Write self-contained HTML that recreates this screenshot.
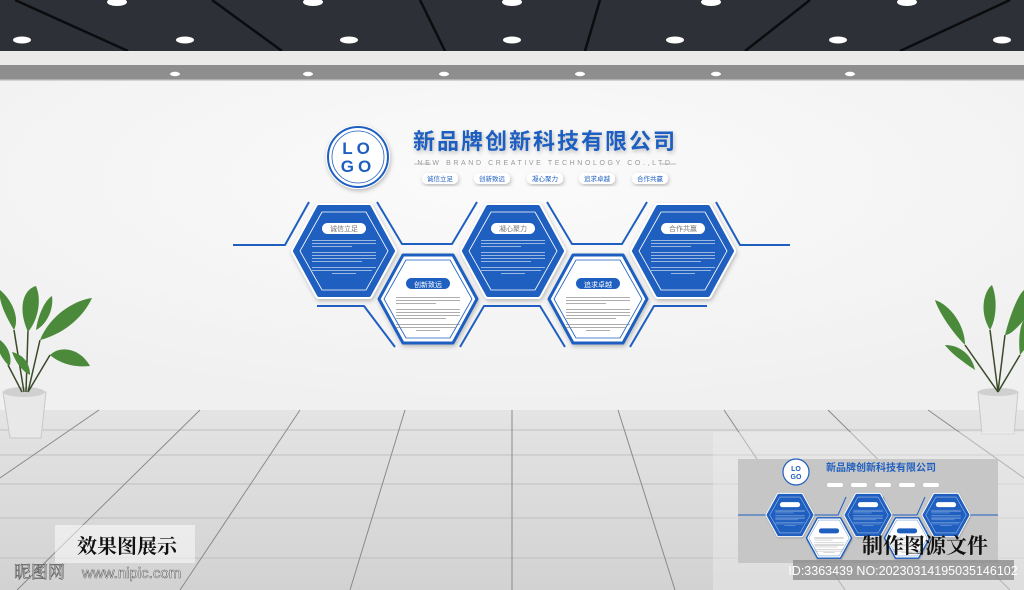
<!DOCTYPE html>
<html><head><meta charset="utf-8"><style>
html,body{margin:0;padding:0;width:1024px;height:590px;overflow:hidden;background:#f8f8f8}
svg{display:block}
text{font-family:"Liberation Sans","Noto Sans CJK SC",sans-serif}
</style></head><body>
<svg width="1024" height="590" viewBox="0 0 1024 590" xmlns="http://www.w3.org/2000/svg">
<defs>
<linearGradient id="fl" x1="0" y1="0" x2="0" y2="1"><stop offset="0" stop-color="#e4e4e4"/><stop offset="1" stop-color="#d2d2d2"/></linearGradient>
<radialGradient id="wl" cx="0.5" cy="0.3" r="0.7"><stop offset="0" stop-color="#fbfbfb"/><stop offset="1" stop-color="#f0f0f0"/></radialGradient>
<filter id="sh" x="-20%" y="-20%" width="140%" height="140%"><feDropShadow dx="1" dy="2" stdDeviation="2" flood-color="#000" flood-opacity="0.25"/></filter>
<g id="blue">
<polygon points="-49,0 -25,-44 25,-44 49,0 25,44 -25,44" fill="#fff" stroke="#fff" stroke-width="8" stroke-linejoin="round" filter="url(#sh)"/>
<polygon points="-49,0 -25,-44 25,-44 49,0 25,44 -25,44" fill="#1f5fc0" stroke="#1f5fc0" stroke-width="4" stroke-linejoin="round"/>
<polygon points="-44,0 -22,-39 22,-39 44,0 22,39 -22,39" fill="none" stroke="#fff" stroke-width="0.8" stroke-linejoin="round"/>
<rect x="-22" y="-28" width="44" height="11" rx="5.5" fill="#fff"/>
<g fill="#fff" opacity="0.55"><rect x="-32" y="-11" width="64" height="1"/><rect x="-32" y="-8" width="64" height="1"/><rect x="-32" y="-5" width="40" height="1"/><rect x="-32" y="1" width="64" height="1"/><rect x="-32" y="4" width="64" height="1"/><rect x="-32" y="7" width="64" height="1"/><rect x="-32" y="10" width="50" height="1"/><rect x="-32" y="16" width="64" height="1"/><rect x="-32" y="19" width="60" height="1"/><rect x="-12" y="22" width="24" height="1"/></g>
</g>
<g id="white">
<polygon points="-49,0 -25,-44 25,-44 49,0 25,44 -25,44" fill="#fff" stroke="#1f5fc0" stroke-width="3" stroke-linejoin="round" filter="url(#sh)"/>
<polygon points="-44,0 -22,-39 22,-39 44,0 22,39 -22,39" fill="#fff" stroke="#1f5fc0" stroke-width="0.8" stroke-linejoin="round"/>
<rect x="-22" y="-21" width="44" height="11" rx="5.5" fill="#1f5fc0"/>
<g fill="#777" opacity="0.6"><rect x="-32" y="-2" width="64" height="1"/><rect x="-32" y="1" width="64" height="1"/><rect x="-32" y="4" width="40" height="1"/><rect x="-32" y="10" width="64" height="1"/><rect x="-32" y="13" width="64" height="1"/><rect x="-32" y="16" width="64" height="1"/><rect x="-32" y="19" width="50" height="1"/><rect x="-32" y="25" width="64" height="1"/><rect x="-32" y="28" width="60" height="1"/><rect x="-12" y="31" width="24" height="1"/></g>
</g>
</defs>
<rect x="0" y="80" width="1024" height="330" fill="url(#wl)"/>
<!-- ceiling -->
<rect x="0" y="0" width="1024" height="51" fill="#2e3038"/>
<g stroke="#0c0c0e" stroke-width="2.5"><line x1="15" y1="0" x2="128" y2="51"/><line x1="212" y1="0" x2="282" y2="51"/><line x1="420" y1="0" x2="445" y2="51"/><line x1="600" y1="0" x2="585" y2="51"/><line x1="810" y1="0" x2="745" y2="51"/><line x1="1010" y1="0" x2="900" y2="51"/></g>
<g fill="#fff"><ellipse cx="22" cy="40" rx="9" ry="3.5"/><ellipse cx="185" cy="40" rx="9" ry="3.5"/><ellipse cx="349" cy="40" rx="9" ry="3.5"/><ellipse cx="512" cy="40" rx="9" ry="3.5"/><ellipse cx="675" cy="40" rx="9" ry="3.5"/><ellipse cx="838" cy="40" rx="9" ry="3.5"/><ellipse cx="1002" cy="40" rx="9" ry="3.5"/>
<ellipse cx="117" cy="2" rx="10" ry="4"/><ellipse cx="313" cy="2" rx="10" ry="4"/><ellipse cx="512" cy="2" rx="10" ry="4"/><ellipse cx="711" cy="2" rx="10" ry="4"/><ellipse cx="907" cy="2" rx="10" ry="4"/></g>
<rect x="0" y="51" width="1024" height="14" fill="#ebebe9"/>
<rect x="0" y="65" width="1024" height="15" fill="#8e8e8e"/>
<rect x="0" y="79" width="1024" height="1.5" fill="#b0b0b0"/>
<g fill="#fff"><ellipse cx="175" cy="74" rx="5" ry="2.2"/><ellipse cx="308" cy="74" rx="5" ry="2.2"/><ellipse cx="444" cy="74" rx="5" ry="2.2"/><ellipse cx="580" cy="74" rx="5" ry="2.2"/><ellipse cx="716" cy="74" rx="5" ry="2.2"/><ellipse cx="850" cy="74" rx="5" ry="2.2"/></g>
<!-- floor -->
<rect x="0" y="410" width="1024" height="180" fill="url(#fl)"/>
<g stroke="#c0c0c0" stroke-width="1"><line x1="0" y1="430" x2="1024" y2="430"/><line x1="0" y1="455" x2="1024" y2="455"/><line x1="0" y1="484" x2="1024" y2="484"/><line x1="0" y1="518" x2="1024" y2="518"/><line x1="0" y1="558" x2="1024" y2="558"/></g>
<g stroke="#8a8a8a" stroke-width="1"><line x1="99" y1="410" x2="0" y2="478"/><line x1="200" y1="410" x2="17" y2="590"/><line x1="300" y1="410" x2="180" y2="590"/><line x1="405" y1="410" x2="350" y2="590"/><line x1="512" y1="410" x2="512" y2="590"/><line x1="618" y1="410" x2="675" y2="590"/><line x1="724" y1="410" x2="845" y2="590"/><line x1="828" y1="410" x2="1010" y2="590"/><line x1="928" y1="410" x2="1024" y2="478"/></g>
<!-- header -->
<circle cx="358" cy="157" r="32" fill="#fff" filter="url(#sh)"/>
<circle cx="358" cy="157" r="30" fill="none" stroke="#1f5fc0" stroke-width="2"/>
<circle cx="358" cy="157" r="26" fill="none" stroke="#1f5fc0" stroke-width="0.8"/>
<text x="358" y="154" font-size="17" font-weight="bold" fill="#1f5fc0" text-anchor="middle" letter-spacing="4">LO</text>
<text x="358" y="172" font-size="17" font-weight="bold" fill="#1f5fc0" text-anchor="middle" letter-spacing="4">GO</text>
<text x="545" y="149" font-size="22" font-weight="bold" fill="#1f5fc0" text-anchor="middle" letter-spacing="2" filter="url(#sh)">新品牌创新科技有限公司</text>
<text x="545" y="165" font-size="7" fill="#999" text-anchor="middle" letter-spacing="2.6">NEW BRAND CREATIVE TECHNOLOGY CO.,LTD</text>
<g stroke="#bbb" stroke-width="1"><line x1="414" y1="164" x2="431" y2="164"/><line x1="660" y1="164" x2="676" y2="164"/></g>
<g font-size="6.5" fill="#1f5fc0" text-anchor="middle">
<rect x="422" y="173" width="36" height="11" rx="5" fill="#fff" filter="url(#sh)"/><text x="440" y="181">诚信立足</text>
<rect x="474" y="173" width="36" height="11" rx="5" fill="#fff" filter="url(#sh)"/><text x="492" y="181">创新致远</text>
<rect x="527" y="173" width="36" height="11" rx="5" fill="#fff" filter="url(#sh)"/><text x="545" y="181">凝心聚力</text>
<rect x="579" y="173" width="36" height="11" rx="5" fill="#fff" filter="url(#sh)"/><text x="597" y="181">追求卓越</text>
<rect x="632" y="173" width="36" height="11" rx="5" fill="#fff" filter="url(#sh)"/><text x="650" y="181">合作共赢</text>
</g>
<!-- frame lines -->
<g fill="none" stroke="#1f5fc0" stroke-width="2" stroke-linejoin="round">
<polyline points="233,245 285,245 309,202"/>
<polyline points="377,202 402,244 452,244 477,202"/>
<polyline points="547,202 572,244 622,244 647,202"/>
<polyline points="716,202 740,245 790,245"/>
<polyline points="317,306 364,306 395,347"/>
<polyline points="460,347 484,306 540,306 565,347"/>
<polyline points="630,347 654,306 707,306"/>
</g>
<!-- hexes -->
<use href="#blue" x="344" y="251"/>
<use href="#blue" x="513" y="251"/>
<use href="#blue" x="683" y="251"/>
<use href="#white" x="428" y="299"/>
<use href="#white" x="598" y="299"/>
<g font-size="7" text-anchor="middle">
<text x="344" y="231" fill="#777">诚信立足</text>
<text x="513" y="231" fill="#777">凝心聚力</text>
<text x="683" y="231" fill="#777">合作共赢</text>
<text x="428" y="287" fill="#fff">创新致远</text>
<text x="598" y="287" fill="#fff">追求卓越</text>
</g>
<!-- plants -->
<g>
<path d="M3,392 L46,392 L41,438 L10,438 Z" fill="#e8e8e8" stroke="#c8c8c8"/>
<ellipse cx="24" cy="392" rx="21" ry="5" fill="#d0d0d0"/>
<g stroke="#3a4a2a" stroke-width="1.5" fill="none"><path d="M26,392 L28,330"/><path d="M28,392 L40,340"/><path d="M28,392 L50,355"/><path d="M22,392 L8,365"/><path d="M24,392 L14,330"/></g>
<g fill="#4a8a3a"><path d="M28,332 C18,310 22,290 36,286 C42,300 38,320 28,332Z"/><path d="M40,340 C50,315 75,300 92,298 C82,320 60,335 40,340Z"/><path d="M50,355 C60,345 80,348 90,366 C72,368 58,362 50,355Z"/><path d="M8,365 C0,356 -5,346 0,340 C8,346 12,356 10,365Z"/><path d="M14,330 C5,315 -2,300 0,290 C12,300 20,318 14,330Z"/><path d="M36,330 C38,315 45,300 52,296 C54,310 46,325 36,330Z"/><path d="M30,375 C20,370 15,360 12,352 C25,355 30,365 30,375Z"/></g>
</g>
<g>
<path d="M978,392 L1018,392 L1014,434 L982,434 Z" fill="#e8e8e8" stroke="#c8c8c8"/>
<ellipse cx="998" cy="392" rx="20" ry="4" fill="#d0d0d0"/>
<g stroke="#3a4a2a" stroke-width="1.5" fill="none"><path d="M998,392 L990,330"/><path d="M998,392 L1005,335"/><path d="M998,392 L965,345"/><path d="M998,392 L1020,355"/></g>
<g fill="#4a8a3a"><path d="M990,330 C978,310 985,290 992,285 C998,300 996,320 990,330Z"/><path d="M965,345 C950,330 938,310 935,300 C950,305 965,325 965,345Z"/><path d="M1005,335 C1010,315 1018,295 1024,290 L1024,320 C1015,330 1010,335 1005,335Z"/><path d="M975,370 C960,360 950,352 945,345 C960,345 972,355 975,370Z"/><path d="M1020,355 C1018,340 1020,325 1024,320 L1024,350Z"/></g>
</g>
<!-- bottom labels -->
<rect x="55" y="525" width="140" height="38" fill="#fff" opacity="0.5"/>
<text x="127" y="553" font-size="20" font-weight="bold" fill="#111" text-anchor="middle" style="font-family:'Noto Serif CJK SC',serif">效果图展示</text>
<text x="14" y="578" font-size="17" fill="#fff" stroke="#666" stroke-width="0.7" style="font-family:'Noto Serif CJK SC',serif">昵图网</text>
<text x="82" y="578" font-size="15" fill="#fff" stroke="#666" stroke-width="0.6">www.nipic.com</text>
<!-- thumbnail -->
<rect x="713" y="432" width="311" height="158" fill="#f0f0f0" opacity="0.4"/>
<rect x="738" y="459" width="260" height="104" fill="#c6c6c6"/>
<circle cx="796" cy="472" r="13" fill="#fff" stroke="#1f5fc0" stroke-width="1.2"/>
<text x="796" y="471" font-size="7" font-weight="bold" fill="#1f5fc0" text-anchor="middle">LO</text>
<text x="796" y="479" font-size="7" font-weight="bold" fill="#1f5fc0" text-anchor="middle">GO</text>
<text x="881" y="471" font-size="10" font-weight="bold" fill="#1f5fc0" text-anchor="middle">新品牌创新科技有限公司</text>
<g fill="#fff"><rect x="827" y="483" width="16" height="4" rx="2"/><rect x="851" y="483" width="16" height="4" rx="2"/><rect x="875" y="483" width="16" height="4" rx="2"/><rect x="899" y="483" width="16" height="4" rx="2"/><rect x="923" y="483" width="16" height="4" rx="2"/></g>
<g fill="none" stroke="#1f5fc0" stroke-width="1"><polyline points="738,515 768,515 778,497"/><polyline points="804,497 812,515 838,515 846,497"/><polyline points="883,497 891,515 917,515 925,497"/><polyline points="960,497 968,515 998,515"/></g>
<g transform="translate(790,515) scale(0.46)"><use href="#blue"/></g>
<g transform="translate(868,515) scale(0.46)"><use href="#blue"/></g>
<g transform="translate(946,515) scale(0.46)"><use href="#blue"/></g>
<g transform="translate(829,538) scale(0.46)"><use href="#white"/></g>
<g transform="translate(907,538) scale(0.46)"><use href="#white"/></g>
<text x="925" y="553" font-size="21" font-weight="bold" fill="#111" text-anchor="middle" style="font-family:'Noto Serif CJK SC',serif">制作图源文件</text>
<rect x="793" y="560" width="221" height="20" fill="#888" opacity="0.75"/>
<text x="903" y="575" font-size="12.5" fill="#fff" text-anchor="middle">ID:3363439 NO:20230314195035146102</text>
</svg>
</body></html>
